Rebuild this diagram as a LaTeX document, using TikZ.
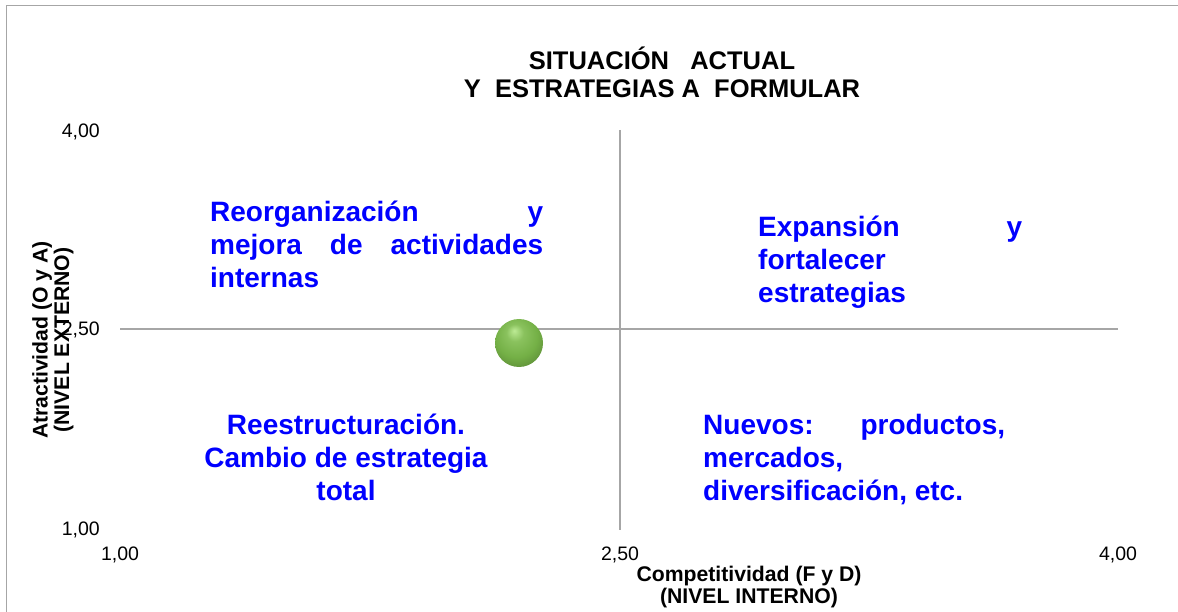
\documentclass[tikz,border=0pt]{standalone}
\usepackage{fontspec}
\setmainfont{Liberation Sans}

\definecolor{gridgray}{HTML}{A6A6A6}
\definecolor{ballhi}{HTML}{BDEB95}
\definecolor{ballmid}{HTML}{74B046}
\definecolor{balldark}{HTML}{3C7222}
\pgfdeclareradialshading{greenball}{\pgfpoint{-5bp}{13bp}}{color(0bp)=(ballhi); color(9bp)=(ballmid!70!ballhi); color(22bp)=(ballmid); color(38bp)=(ballmid!72!black); color(50bp)=(balldark)}

\begin{document}
\begin{tikzpicture}[x=1pt, y=-1pt,
                        every node/.style={inner sep=0pt},
                        ticklabel/.style={font=\fontsize{19.5}{21}\selectfont},
                        axistitle/.style={font=\fontsize{21.2}{21.5}\selectfont\bfseries, align=center},
                        quadrant/.style={font=\fontsize{28}{33}\selectfont\bfseries, text=blue},
                        axisline/.style={draw=gridgray, line width=1.3pt}]

                        \useasboundingbox (0,0) rectangle (1178,612);
                        \draw[gridgray, line width=1.2pt] (6.7,612) -- (6.7,5.3) -- (1178,5.3); % chart frame

                        % Define axes
                        \coordinate (xizq) at (120,329);
                        \coordinate (xder) at (1118,329);
                        \coordinate (ysup) at (620,130);
                        \coordinate (yinf) at (620,530);
                        \draw[axisline] (xizq) -- (xder);
                        \draw[axisline] (ysup) -- (yinf);

                        % Define tick labels
                        \node[ticklabel, anchor=east] (y400) at (100,132) {4,00};
                        \node[ticklabel, anchor=east] (y250) at (100,330) {2,50};
                        \node[ticklabel, anchor=east] (y100) at (100,530) {1,00};
                        \node[ticklabel] (x100) at (120,555) {1,00};
                        \node[ticklabel] (x250) at (620,555) {2,50};
                        \node[ticklabel] (x400) at (1118,555) {4,00};

                        % Define titles
                        \node[font=\fontsize{25.5}{28}\selectfont\bfseries, align=center, anchor=base] (titulo) at (662,98)
                            {SITUACIÓN\ \ \ ACTUAL\\Y\ \ ESTRATEGIAS A\ \ FORMULAR};
                        \node[axistitle, rotate=90] (ejeY) at (53,340) {Atractividad (O y A)\\(NIVEL EXTERNO)};
                        \node[axistitle] (ejeX) at (749,587) {Competitividad (F y D)\\(NIVEL INTERNO)};

                        % Define quadrant texts
                        \node[quadrant, text width=333pt, align=justify, anchor=base west] (reorg) at (210,222)
                            {Reorganización y\linebreak mejora de actividades\linebreak internas};
                        \node[quadrant, text width=264pt, align=justify, anchor=base west] (expan) at (758,237)
                            {Expansión y\linebreak fortalecer\\estrategias};
                        \node[quadrant, align=center, anchor=base] (reestr) at (346,500)
                            {Reestructuración.\\Cambio de estrategia\\total};
                        \node[quadrant, text width=302pt, align=justify, anchor=base west] (nuevos) at (703,434)
                            {Nuevos: productos,\linebreak mercados,\\diversificación, etc.};

                        % Current position
                        \node[circle, minimum size=48pt, shade, shading=greenball] (bola) at (519,343) {};
                        \end{tikzpicture}
\end{document}
